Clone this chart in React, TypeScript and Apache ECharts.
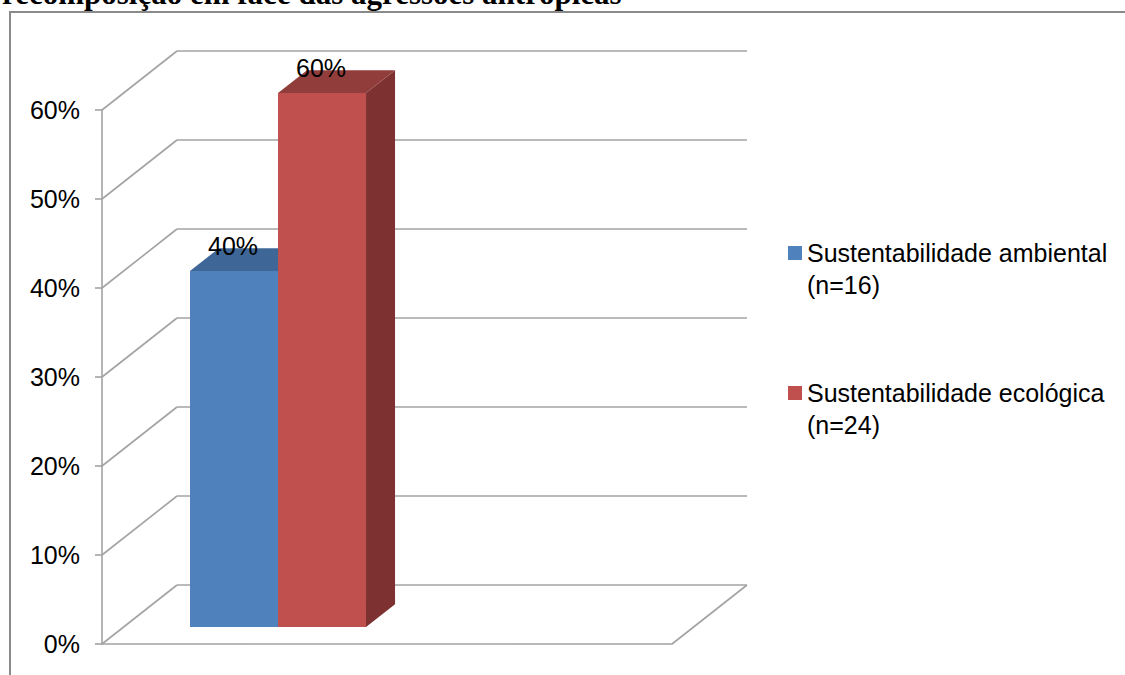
import React, { useEffect, useRef } from "react";
import * as echarts from "echarts";

const title = "recomposição em face das agressões antrópicas";
const categories = [""];
const seriesNames = ["Sustentabilidade ambiental", "Sustentabilidade ecológica"];
const seriesCounts = ["(n=16)", "(n=24)"];
const ambiental = [0.4];
const ecologica = [0.6];
const yTicks = [0, 0.1, 0.2, 0.3, 0.4, 0.5, 0.6];

const FRONT = ["#4F81BD", "#C0504D"];
const TOP = ["#3E6797", "#903D3B"];
const SIDE = ["#365B86", "#7D3130"];
const GRID = "#a3a3a3";
// oblique depth vector of the floor/walls
const DX = 75;
const DY = -59;
// bar placement within depth
const BAR_FRONT = 0.288;
const BAR_DEPTH = 0.387;
const BAR_W = 0.1544;
const FONT = "Liberation Sans";

const pct = (v: number) => Math.round(v * 100) + "%";

export default function App() {
  const ref = useRef<HTMLDivElement>(null);
  useEffect(() => {
    if (!ref.current) return;
    const chart = echarts.init(ref.current, null, { renderer: "svg" });

    const wallItem = (params: any, api: any) => {
      const v = api.value(1);
      const c = api.coord([api.value(0), v]);
      const w = api.size([1, 0])[0];
      const L = c[0] - w / 2;
      const R = c[0] + w / 2;
      const y = c[1];
      const style = { stroke: GRID, lineWidth: 1.6 };
      const children: any[] = [
        { type: "line", shape: { x1: L, y1: y, x2: L + DX, y2: y + DY }, style },
        { type: "line", shape: { x1: L + DX, y1: y + DY, x2: R + DX, y2: y + DY }, style },
      ];
      if (v === 0) {
        children.push({ type: "line", shape: { x1: R, y1: y, x2: R + DX, y2: y + DY }, style });
      }
      return { type: "group", children };
    };

    const barItem = (si: number) => (params: any, api: any) => {
      const v = api.value(1);
      const cat = api.value(0);
      const top = api.coord([cat, v]);
      const base = api.coord([cat, 0]);
      const w = api.size([1, 0])[0];
      const L = top[0] - w / 2;
      const bw = w * BAR_W;
      const fy = DY * BAR_FRONT;
      const dx = DX * BAR_DEPTH;
      const dy = DY * BAR_DEPTH;
      const x0 = L + bw * (si + 1);
      const x1 = x0 + bw;
      const yt = top[1] + fy;
      const yb = base[1] + fy;
      return {
        type: "group",
        children: [
          {
            type: "polygon",
            shape: { points: [[x1, yt], [x1 + dx, yt + dy], [x1 + dx, yb + dy], [x1, yb]] },
            style: { fill: SIDE[si] },
          },
          {
            type: "polygon",
            shape: { points: [[x0, yt], [x1, yt], [x1 + dx, yt + dy], [x0 + dx, yt + dy]] },
            style: { fill: TOP[si] },
          },
          {
            type: "rect",
            shape: { x: x0, y: yt, width: bw, height: yb - yt },
            style: { fill: FRONT[si] },
          },
          {
            type: "text",
            style: {
              text: pct(v),
              x: (x0 + x1) / 2 - 1,
              y: yt + dy - 2,
              align: "center",
              verticalAlign: "middle",
              fill: "#000",
              font: `25px '${FONT}'`,
            },
          },
        ],
      };
    };

    const legendGraphics: any[] = [];
    const legendTops = [253, 393];
    seriesNames.forEach((n, i) => {
      legendGraphics.push({
        type: "rect",
        shape: { x: 788, y: legendTops[i] - 7, width: 14, height: 14 },
        style: { fill: FRONT[i] },
      });
      legendGraphics.push({
        type: "text",
        x: 807,
        y: legendTops[i],
        style: { text: n, verticalAlign: "middle", fill: "#000", font: `25px '${FONT}'` },
      });
      legendGraphics.push({
        type: "text",
        x: 807,
        y: legendTops[i] + 32,
        style: { text: seriesCounts[i], verticalAlign: "middle", fill: "#000", font: `25px '${FONT}'` },
      });
    });

    chart.setOption({
      animation: false,
      backgroundColor: "#ffffff",
      grid: { left: 102, right: 453, top: 110, bottom: 31 },
      xAxis: {
        type: "category",
        data: categories,
        axisLine: { show: true, lineStyle: { color: GRID, width: 1.6 } },
        axisTick: { show: false },
        axisLabel: { show: false },
        splitLine: { show: false },
      },
      yAxis: {
        type: "value",
        min: 0,
        max: 0.6,
        interval: 0.1,
        axisLine: { show: true, lineStyle: { color: GRID, width: 1.6 } },
        axisTick: { show: true, length: 7, lineStyle: { color: GRID, width: 1.6 } },
        axisLabel: {
          formatter: (v: number) => pct(v),
          color: "#000",
          fontFamily: FONT,
          fontSize: 25,
          margin: 22,
        },
        splitLine: { show: false },
      },
      series: [
        {
          type: "custom",
          name: "walls",
          renderItem: wallItem,
          data: yTicks.map((v) => [0, v]),
          clip: false,
          silent: true,
          z: 1,
        },
        {
          type: "custom",
          name: seriesNames[0],
          renderItem: barItem(0),
          data: ambiental.map((v, i) => [i, v]),
          clip: false,
          z: 2,
        },
        {
          type: "custom",
          name: seriesNames[1],
          renderItem: barItem(1),
          data: ecologica.map((v, i) => [i, v]),
          clip: false,
          z: 3,
        },
      ],
      graphic: [
        {
          type: "rect",
          shape: { x: 10, y: 12, width: 1200, height: 700 },
          style: { fill: "none", stroke: "#8a8a8a", lineWidth: 2 },
          z: -1,
        },
        {
          type: "text",
          x: 2,
          y: -7,
          style: {
            text: title,
            verticalAlign: "middle",
            fill: "#000",
            font: "bold 31px 'Liberation Serif'",
          },
        },
        ...legendGraphics,
      ],
    });
    return () => chart.dispose();
  }, []);
  return (
    <div
      ref={ref}
      style={{ position: "fixed", left: 0, top: 0, width: 1125, height: 675, background: "#fff" }}
    />
  );
}
